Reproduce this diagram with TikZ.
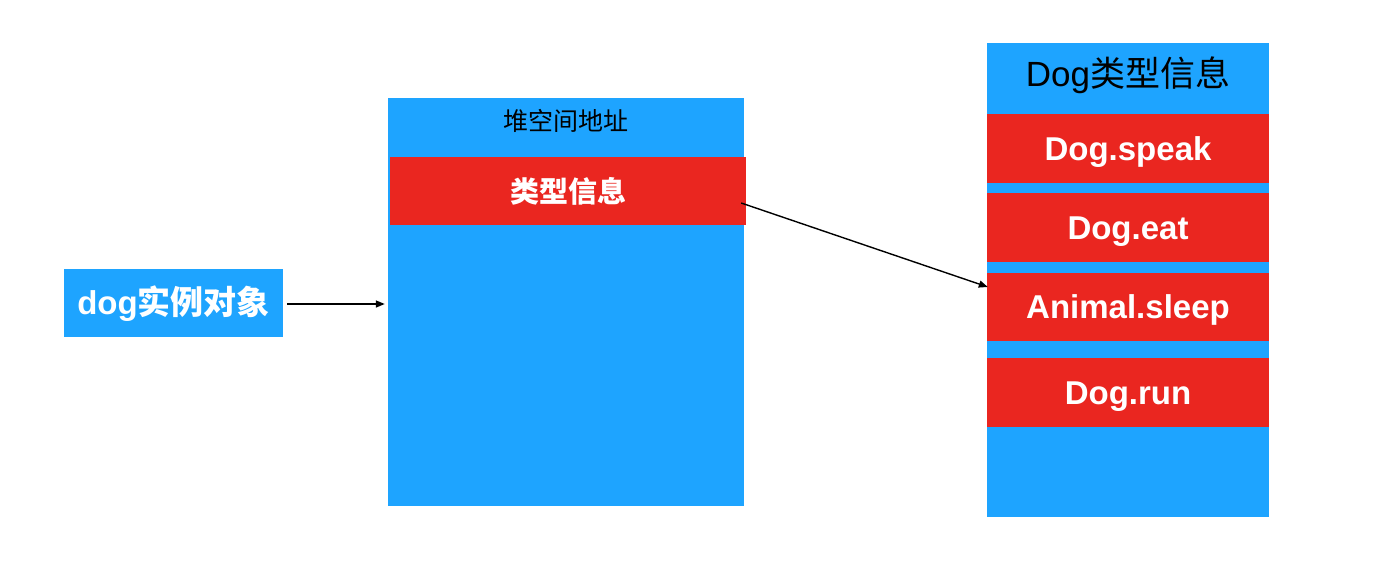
\documentclass[tikz,border=0pt]{standalone}
\usepackage{fontspec}
\setmainfont{Liberation Sans}
\newfontfamily\cjk{Noto Sans CJK SC}
\usetikzlibrary{arrows.meta,calc}
\definecolor{bblue}{RGB}{30,164,255}
\definecolor{rred}{RGB}{234,38,32}
\tikzset{
  box/.style={fill=bblue,draw=none,inner sep=0pt,minimum width=#1},
  ctext/.style={inner sep=0pt,text height=#1,text depth=0pt},
  redrow/.style={fill=rred,draw=none,ctext=23.6pt,text=white,font=\fontsize{33}{36}\selectfont\bfseries},
  conn/.style={draw=black,line width=1.4pt,-{Triangle[length=9pt,width=7pt]}}
}
\begin{document}
\begin{tikzpicture}[x=1pt,y=-1pt]
\useasboundingbox (0,0) rectangle (1374,586);
% left object
\node[box=219pt,minimum height=68pt,ctext=23.6pt,text=white,font=\fontsize{33}{36}\selectfont\bfseries] (dog) at (173.5,303) {dog{\cjk 实例对象}};
% heap box
\node[box=356pt,minimum height=408pt] (heap) at (566,302) {};
\node[ctext=19pt,font=\fontsize{25}{28}\selectfont\cjk,text=black] (heaptitle) at (566,121) {堆空间地址};
\node[redrow,minimum width=356pt,minimum height=68pt,ctext=22pt,font=\fontsize{29}{32}\selectfont\cjk\bfseries] (typeinfo) at (568,191) {类型信息};
% right box
\node[box=282pt,minimum height=474pt] (dogtype) at (1128,280) {};
\node[ctext=25pt,font=\fontsize{35}{40}\selectfont,text=black] (dogtitle) at (1128,74) {Dog{\cjk 类型信息}};
\node[redrow,minimum width=282pt,minimum height=69pt] (speak) at (1128,148.5) {Dog.speak};
\node[redrow,minimum width=282pt,minimum height=69pt] (eat) at (1128,227.5) {Dog.eat};
\node[redrow,minimum width=282pt,minimum height=68pt] (sleep) at (1128,307) {Animal.sleep};
\node[redrow,minimum width=282pt,minimum height=69pt] (run) at (1128,392.5) {Dog.run};
% connectors
\draw[conn] ($(dog.east)+(4,1)$) -- ($(heap.west)+(-3,2)$);
\coordinate (tstart) at ($(typeinfo.east)+(-5,12)$);
\draw[conn] (tstart) -- ($(sleep.west)+(1,-20)$);
\end{tikzpicture}
\end{document}
